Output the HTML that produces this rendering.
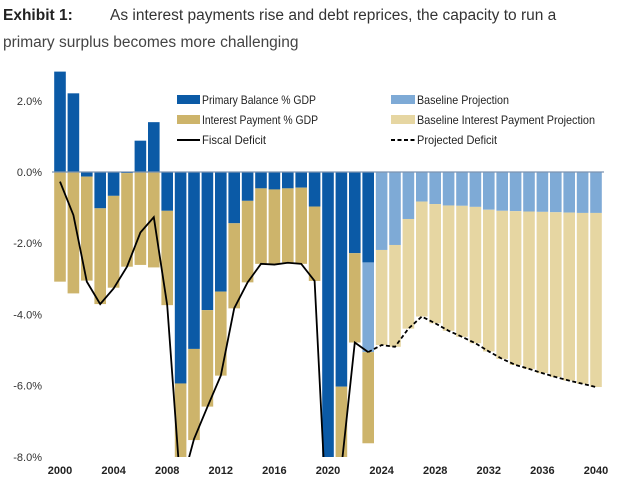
<!DOCTYPE html>
<html><head><meta charset="utf-8">
<style>
html,body{margin:0;padding:0;background:#fff;width:624px;height:489px;overflow:hidden;font-family:"Liberation Sans",sans-serif}
svg{display:block}
</style></head>
<body>
<svg id="chart" width="624" height="489" xmlns="http://www.w3.org/2000/svg" font-family="Liberation Sans, sans-serif">
<text x="3" y="20" font-size="15.5" fill="#333"><tspan font-weight="bold" fill="#222">Exhibit 1:</tspan><tspan x="110">As interest payments rise and debt reprices, the capacity to run a</tspan></text>
<text x="3" y="47" font-size="15.5" fill="#444">primary surplus becomes more challenging</text>
<defs><clipPath id="plotclip"><rect x="40" y="60" width="580" height="397"/></clipPath></defs>
<g id="bars" clip-path="url(#plotclip)"></g>
<line id="zero" x1="52" x2="604" stroke="#7d93b0" stroke-width="1.2"/>
<g id="lines" clip-path="url(#plotclip)"></g>
<g id="yaxis"></g>
<g id="xaxis"></g>
<g font-size="12" fill="#222">
<rect x="177" y="95" width="23" height="9" fill="#0b5aa6"/>
<text x="202" y="104" textLength="114" lengthAdjust="spacingAndGlyphs">Primary Balance % GDP</text>
<rect x="177" y="115" width="23" height="9" fill="#cdb46b"/>
<text x="202" y="124" textLength="116" lengthAdjust="spacingAndGlyphs">Interest Payment % GDP</text>
<line x1="177" x2="200" y1="140" y2="140" stroke="#000" stroke-width="2"/>
<text x="202" y="144" textLength="64" lengthAdjust="spacingAndGlyphs">Fiscal Deficit</text>
<rect x="391" y="95" width="24" height="9" fill="#7eaad6"/>
<text x="417" y="104" textLength="92" lengthAdjust="spacingAndGlyphs">Baseline Projection</text>
<rect x="391" y="115" width="24" height="9" fill="#e6d6a2"/>
<text x="417" y="124" textLength="178" lengthAdjust="spacingAndGlyphs">Baseline Interest Payment Projection</text>
<line x1="391" x2="415" y1="140" y2="140" stroke="#000" stroke-width="2" stroke-dasharray="4,2.5"/>
<text x="417" y="144" textLength="80" lengthAdjust="spacingAndGlyphs">Projected Deficit</text>
</g>
</svg>
<script>
const years=[];for(let y=2000;y<=2040;y++)years.push(y);
// historical primary balance (% GDP), 2000-2023
const primaryBalance=[2.82,2.21,-0.13,-1.02,-0.67,-0.03,0.88,1.40,-1.09,-5.94,-4.97,-3.88,-3.36,-1.44,-0.81,-0.46,-0.49,-0.46,-0.44,-0.97,-9.5,-6.03,-2.28,-2.54];
// historical interest payment (% GDP), 2000-2023
const interestPayment=[3.08,3.41,2.92,2.69,2.58,2.63,2.61,2.68,2.65,2.6,2.56,2.71,2.36,2.39,2.29,2.12,2.09,2.08,2.14,2.09,1.0,2.3,2.51,2.56];
// baseline projection primary balance, 2023-2040
const baselineProjection=[-2.52,-2.19,-2.05,-1.32,-0.83,-0.90,-0.94,-0.95,-0.98,-1.06,-1.09,-1.10,-1.11,-1.12,-1.13,-1.14,-1.15,-1.15];
// baseline projected interest, 2024-2040
const baselineInterest=[2.67,2.86,3.08,3.23,3.35,3.52,3.68,3.83,3.98,4.16,4.32,4.42,4.53,4.63,4.72,4.80,4.89];
// fiscal deficit 2000-2023
const fiscalDeficit=[-0.27,-1.21,-3.08,-3.71,-3.27,-2.66,-1.70,-1.27,-3.74,-8.9,-7.5,-6.6,-5.72,-3.83,-3.10,-2.58,-2.60,-2.55,-2.58,-3.06,-10.5,-8.3,-4.79,-5.06];
// projected deficit 2023-2040
const projectedDeficit=[-5.06,-4.86,-4.91,-4.40,-4.06,-4.25,-4.46,-4.63,-4.81,-5.04,-5.25,-5.42,-5.53,-5.65,-5.76,-5.86,-5.95,-6.04];
const yTicks=[2,0,-2,-4,-6,-8];
const yTickLabels=["2.0%","0.0%","-2.0%","-4.0%","-6.0%","-8.0%"];
const xTickYears=[2000,2004,2008,2012,2016,2020,2024,2028,2032,2036,2040];

const NS="http://www.w3.org/2000/svg";
const x=yr=>60+(yr-2000)*13.4;
const y=v=>172-v*35.6;
const bw=11.6;
document.getElementById('zero').setAttribute('y1',y(0));
document.getElementById('zero').setAttribute('y2',y(0));
const bars=document.getElementById('bars');
function rect(v0,v1,yr,fill,name){
  const r=document.createElementNS(NS,'rect');
  const a=Math.min(y(v0),y(v1)),b=Math.max(y(v0),y(v1));
  r.setAttribute('x',x(yr)-bw/2);r.setAttribute('width',bw);
  r.setAttribute('y',a);r.setAttribute('height',b-a);r.setAttribute('fill',fill);
  
  
  bars.appendChild(r);
}
for(let i=0;i<primaryBalance.length;i++){
  const yr=years[i],pb=primaryBalance[i];
  rect(0,pb,yr,'#0b5aa6','bar-primary-'+yr);
  let start=Math.min(0,pb);
  if(yr===2023){const e=start+baselineProjection[0];rect(start,e,yr,'#7eaad6','bar-baseline-'+yr);start=e;}
  rect(start,start-interestPayment[i],yr,'#cdb46b','bar-interest-'+yr);
}
for(let j=0;j<baselineInterest.length;j++){
  const yr=2024+j,pb=baselineProjection[j+1];
  rect(0,pb,yr,'#7eaad6','bar-baseline-'+yr);
  rect(pb,pb-baselineInterest[j],yr,'#e6d6a2','bar-baseline-interest-'+yr);
}
const lines=document.getElementById('lines');
function path(vals,y0,dash,name){
  const p=document.createElementNS(NS,'path');
  p.setAttribute('d',vals.map((v,i)=>(i?'L':'M')+x(y0+i)+','+y(v)).join(''));
  p.setAttribute('fill','none');p.setAttribute('stroke','#000');p.setAttribute('stroke-width','1.8');
  if(dash)p.setAttribute('stroke-dasharray','4,2.5');
  
  
  lines.appendChild(p);
}
path(fiscalDeficit,2000,false,'fiscal-deficit-line');
path(projectedDeficit,2023,true,'projected-deficit-line');
const ya=document.getElementById('yaxis');
yTicks.forEach((v,i)=>{
  const t=document.createElementNS(NS,'text');
  t.setAttribute('x',42);t.setAttribute('y',y(v)+4);t.setAttribute('text-anchor','end');
  t.setAttribute('font-size','11');t.setAttribute('fill','#333');
  t.textContent=yTickLabels[i];
  
  
  ya.appendChild(t);
});
const xa=document.getElementById('xaxis');
xTickYears.forEach(yr=>{
  const t=document.createElementNS(NS,'text');
  t.setAttribute('x',x(yr));t.setAttribute('y',474);t.setAttribute('text-anchor','middle');
  t.setAttribute('font-size','11');t.setAttribute('font-weight','bold');t.setAttribute('fill','#222');
  t.textContent=yr;
  
  
  xa.appendChild(t);
});
</script>
</body></html>
